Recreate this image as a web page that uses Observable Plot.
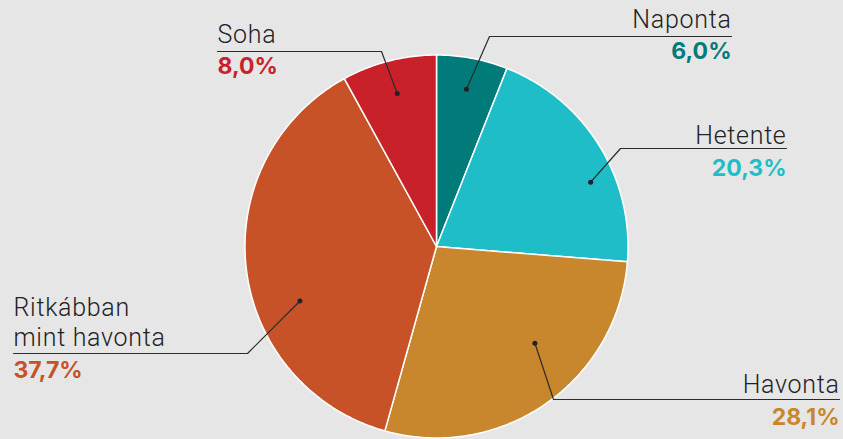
<!DOCTYPE html>
<html>
<head>
<meta charset="utf-8">
<script src="https://cdn.jsdelivr.net/npm/d3@7"></script>
<script src="https://cdn.jsdelivr.net/npm/@observablehq/plot@0.6"></script>
<style>
  html, body { margin: 0; padding: 0; background: #e6e6e6; }
  #chart { width: 843px; height: 439px; }
  svg { display: block; }
</style>
</head>
<body>
<div id="chart"></div>
<script>
// Data
const categories = ["Naponta", "Hetente", "Havonta", "Ritkábban\nmint havonta", "Soha"];
const values = [6.0, 20.3, 28.1, 37.7, 8.0];
const valueLabels = ["6,0%", "20,3%", "28,1%", "37,7%", "8,0%"];
const colors = ["#017a7a", "#1ebdc8", "#c8862d", "#c75228", "#c92129"];

// Layout (pixel-space)
const W = 843, H = 439;
const cx = 436, cy = 246, R = 191.5;
const dotAngleFrac = [0.5, 0.627, 0.395, 0.388, 0.5];
const dotRadius = [160, 167, 138, 147, 158];
const elbowX = [489, 620, 553, 247, 381];
const lineY = [36, 148, 399, 353, 51];
const textX = [731, 786, 839, 13, 217];
const labelY = [27, 143, 392, 345, 42];
const valueY = [58, 175, 424, 377, 73];
const anchors = ["end", "end", "end", "start", "start"];

const pie = d3.pie().sort(null).value(d => d)(values);

const slicePts = [];
pie.forEach((a, i) => {
  slicePts.push({i, x: cx, y: cy});
  const n = Math.max(4, Math.ceil((a.endAngle - a.startAngle) * 80));
  for (let k = 0; k <= n; k++) {
    const t = a.startAngle + (a.endAngle - a.startAngle) * k / n;
    slicePts.push({i, x: cx + R * Math.sin(t), y: cy - R * Math.cos(t)});
  }
});

const dots = pie.map((a, i) => {
  const t = a.startAngle + (a.endAngle - a.startAngle) * dotAngleFrac[i];
  return {i, x: cx + dotRadius[i] * Math.sin(t), y: cy - dotRadius[i] * Math.cos(t)};
});

const leaders = [];
dots.forEach((d, i) => {
  leaders.push({i, x: d.x, y: d.y});
  leaders.push({i, x: elbowX[i], y: lineY[i]});
  leaders.push({i, x: textX[i], y: lineY[i]});
});

const labels = categories.map((c, i) => ({i, x: textX[i], y: labelY[i], text: c, anchor: anchors[i]}));
const vals = valueLabels.map((v, i) => ({i, x: textX[i], y: valueY[i], text: v, anchor: anchors[i]}));

const labelFont = "Roboto, Inter, 'Noto Sans', sans-serif";
const valueFont = "Inter, 'Noto Sans', sans-serif";

const chart = Plot.plot({
  width: W, height: H,
  margin: 0,
  style: {background: "#e6e6e6", fontFamily: labelFont},
  x: {domain: [0, W], range: [0, W], axis: null},
  y: {domain: [0, H], range: [0, H], axis: null},
  marks: [
    Plot.line(slicePts, {x: "x", y: "y", z: "i", fill: d => colors[d.i], stroke: "#ffffff", strokeWidth: 1.5, curve: "linear-closed"}),
    Plot.line(leaders, {x: "x", y: "y", z: "i", stroke: "#2b2b2b", strokeWidth: 1.2}),
    Plot.dot(dots, {x: "x", y: "y", r: 2.5, fill: "#222222"}),
    ...["start", "end"].map(anc => Plot.text(labels.filter(d => d.anchor === anc), {x: "x", y: "y", text: "text", textAnchor: anc, lineAnchor: "bottom", fontSize: 25, fontWeight: 300, fontFamily: labelFont, fill: "#222222", lineHeight: 1.2})),
    ...["start", "end"].map(anc => Plot.text(vals.filter(d => d.anchor === anc), {x: "x", y: "y", text: "text", textAnchor: anc, lineAnchor: "bottom", fontSize: 23, fontWeight: 700, fontFamily: valueFont, fill: d => colors[d.i]}))
  ]
});
// widen the light label lettering slightly
chart.querySelectorAll('g[aria-label="text"]').forEach((g, k) => {
  if (k < 2) g.style.letterSpacing = "0.7px";
});
document.getElementById("chart").appendChild(chart);
</script>
</body>
</html>
